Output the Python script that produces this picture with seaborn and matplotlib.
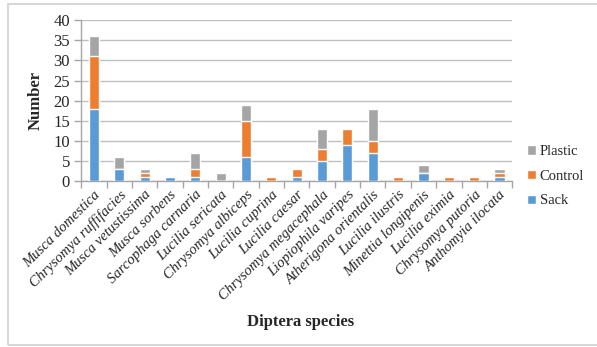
import numpy as np
import pandas as pd
import matplotlib
matplotlib.use("Agg")
import matplotlib.pyplot as plt
import seaborn as sns
from matplotlib.patches import Rectangle

species = [
    "Musca domestica", "Chrysomya ruffifacies", "Musca vetustissima",
    "Musca sorbens", "Sarcophaga carnaria", "Lucilia sericata",
    "Chrysomya albiceps", "Lucilia cuprina", "Lucilia caesar",
    "Chrysomya megacephala", "Liopiophila varipes", "Atherigona orientalis",
    "Lucilia ilustris", "Minettia longipenis", "Lucilia eximia",
    "Chrysomya putoria", "Anthomyia ilocata",
]
sack = [18, 3, 1, 1, 1, 0, 6, 0, 1, 5, 9, 7, 0, 2, 0, 0, 1]
control = [13, 0, 1, 0, 2, 0, 9, 1, 2, 3, 4, 3, 1, 0, 1, 1, 1]
plastic = [5, 3, 1, 0, 4, 2, 4, 0, 0, 5, 0, 8, 0, 2, 0, 0, 1]
yticks = [0, 5, 10, 15, 20, 25, 30, 35, 40]

colors = {"Sack": "#5B9BD5", "Control": "#ED7D31", "Plastic": "#A5A5A5"}

sns.set_theme(style="white")
plt.rcParams["font.family"] = ["Liberation Serif", "DejaVu Serif"]

df = pd.DataFrame({"species": species, "Sack": sack, "Control": control, "Plastic": plastic})
df["top_control"] = df["Sack"] + df["Control"]
df["top_plastic"] = df["top_control"] + df["Plastic"]

fig = plt.figure(figsize=(5.97, 3.47), dpi=100)
ax = fig.add_axes([0.136, 0.478, 0.722, 0.464])

# Stacked bars: draw cumulative totals back to front
for col, name in [("top_plastic", "Plastic"), ("top_control", "Control"), ("Sack", "Sack")]:
    sns.barplot(data=df, x="species", y=col, color=colors[name], width=0.4,
                saturation=1, ax=ax, label=name, zorder=3)

ax.set_ylim(0, 40)
ax.set_xlim(-0.5, len(species) - 0.5)
ax.set_yticks(yticks)
ax.set_yticklabels([str(v) for v in yticks], fontsize=12)
ax.yaxis.grid(True, color="#BFBFBF", linewidth=1.0, zorder=0)
ax.set_axisbelow(True)

ax.set_xticks(range(len(species)))
ax.set_xticklabels(species, rotation=45, ha="right", rotation_mode="anchor",
                   fontsize=10.5, style="italic")
ax.set_xticks(np.arange(-0.5, len(species), 1.0), minor=True)
ax.tick_params(axis="x", which="major", length=0, pad=5)
ax.tick_params(axis="x", which="minor", length=5, color="#A6A6A6", width=1, bottom=True)
ax.tick_params(axis="y", which="major", length=5, color="#A6A6A6", width=1, left=True, pad=3)

for side in ["top", "right"]:
    ax.spines[side].set_visible(False)
for side in ["left", "bottom"]:
    ax.spines[side].set_color("#A6A6A6")
    ax.spines[side].set_linewidth(1)

ax.set_xlabel("")
ax.set_ylabel("Number", fontsize=12, fontweight="bold", labelpad=7)
fig.text(0.503, 0.072, "Diptera species", ha="center", va="center",
         fontsize=12, fontweight="bold")

handles, labels = ax.get_legend_handles_labels()
leg = ax.legend(handles, labels, loc="center left", bbox_to_anchor=(1.035, 0.03),
                borderaxespad=0, borderpad=0, frameon=False, fontsize=10.5,
                handlelength=0.6, handleheight=0.6, handletextpad=0.25,
                labelspacing=0.8)

# Chart frame
fig.patches.append(Rectangle((0.013, 0.006), 1.0, 0.983, transform=fig.transFigure,
                             fill=False, edgecolor="#D0D0D0", linewidth=1.2))

fig.savefig("out.png", dpi=100)
